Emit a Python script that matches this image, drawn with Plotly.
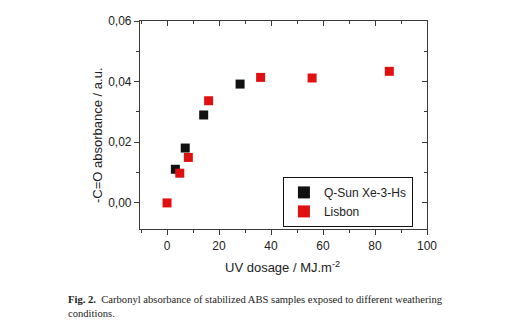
import plotly.graph_objects as go

# Carbonyl absorbance vs. UV dosage for two weathering conditions
qsun_dose = [3.2, 7.0, 14.1, 28.1]
qsun_abs = [0.0111, 0.0181, 0.0290, 0.0392]

lisbon_dose = [0.0, 4.9, 8.2, 16.0, 36.0, 55.8, 85.5]
lisbon_abs = [0.0, 0.0098, 0.0150, 0.0337, 0.0414, 0.0412, 0.0434]

x_ticks = [0, 20, 40, 60, 80, 100]
y_ticks = [0.0, 0.02, 0.04, 0.06]
y_tick_text = ["0,00", "0,02", "0,04", "0,06"]

x_range = [-10.4, 100]
y_range = [-0.0086, 0.06]

W, H = 532, 334
L, R, T, B = 140, 427, 21, 229

def px(x):
    return (x - L) / (R - L)

def py(y):
    return (B - y) / (B - T)

axis_col = "#3a3a3a"
font_main = "Liberation Sans, Arial, sans-serif"

fig = go.Figure()
fig.add_trace(go.Scatter(
    x=qsun_dose, y=qsun_abs, mode="markers", name="Q-Sun Xe-3-Hs",
    marker=dict(symbol="square", size=9, color="#111111",
                line=dict(width=0)),
))
fig.add_trace(go.Scatter(
    x=lisbon_dose, y=lisbon_abs, mode="markers", name="Lisbon",
    marker=dict(symbol="square", size=9, color="#e01010",
                line=dict(width=0)),
))
# invisible trace carrying the mirrored top/right axes
fig.add_trace(go.Scatter(
    x=[x_range[0]], y=[y_range[0]], xaxis="x2", yaxis="y2",
    mode="markers", marker=dict(opacity=0), showlegend=False,
    hoverinfo="skip",
))

fig.update_layout(
    width=W, height=H,
    margin=dict(l=L, r=W - R, t=T, b=H - B),
    paper_bgcolor="white", plot_bgcolor="white",
    font=dict(family=font_main, size=12, color="#222222"),
    showlegend=True,
    legend=dict(
        x=0.498, y=0.01, xanchor="left", yanchor="bottom",
        bgcolor="white", bordercolor="#111111", borderwidth=1,
        font=dict(size=12, color="#222222", family=font_main),
        itemsizing="constant", tracegroupgap=0,
    ),
    xaxis=dict(
        range=x_range, tickvals=x_ticks, ticks="outside", ticklen=5,
        tickcolor=axis_col, showline=True, linecolor=axis_col, linewidth=1.2,
        mirror=True, showgrid=False, zeroline=False,
        minor=dict(tickvals=[-10, 10, 30, 50, 70, 90], ticks="outside",
                   ticklen=3, tickcolor=axis_col),
        tickfont=dict(size=12, color="#222222"),
    ),
    yaxis=dict(
        range=y_range, tickvals=y_ticks, ticktext=y_tick_text,
        ticks="outside", ticklen=5, tickcolor=axis_col,
        showline=True, linecolor=axis_col, linewidth=1.2, mirror=True,
        showgrid=False, zeroline=False,
        minor=dict(tickvals=[-0.01, 0.01, 0.03, 0.05], ticks="outside",
                   ticklen=3, tickcolor=axis_col),
        tickfont=dict(size=12, color="#222222"),
    ),
    xaxis2=dict(
        range=x_range, overlaying="x", side="top", anchor="y",
        tickvals=x_ticks, ticks="inside", ticklen=5, tickcolor=axis_col,
        showticklabels=False, showgrid=False, zeroline=False,
        minor=dict(tickvals=[-10, 10, 30, 50, 70, 90], ticks="inside",
                   ticklen=3, tickcolor=axis_col),
    ),
    yaxis2=dict(
        range=y_range, overlaying="y", side="right", anchor="x",
        tickvals=y_ticks, ticks="inside", ticklen=5, tickcolor=axis_col,
        showticklabels=False, showgrid=False, zeroline=False,
        minor=dict(tickvals=[-0.01, 0.01, 0.03, 0.05], ticks="inside",
                   ticklen=3, tickcolor=axis_col),
    ),
)

annotations = [
    dict(text="-C=O absorbance / a.u.", x=px(97), y=py(135),
         textangle=-90, font=dict(size=13, family=font_main, color="#222222")),
    dict(text="UV dosage / MJ.m<sup>-2</sup>", x=px(282), y=py(267),
         font=dict(size=13, family=font_main, color="#222222")),
    dict(text="<b>Fig. 2.</b>  Carbonyl absorbance of stabilized ABS samples exposed to different weathering",
         x=px(66), y=py(299), xanchor="left",
         font=dict(size=10.6, family="Liberation Serif, serif", color="#222222")),
    dict(text="conditions.", x=px(66), y=py(313), xanchor="left",
         font=dict(size=10.6, family="Liberation Serif, serif", color="#222222")),
]
for a in annotations:
    a.update(xref="paper", yref="paper", showarrow=False,
             yanchor=a.get("yanchor", "middle"))
    a.setdefault("xanchor", "center")
fig.update_layout(annotations=annotations)

fig.write_html("out.html")
